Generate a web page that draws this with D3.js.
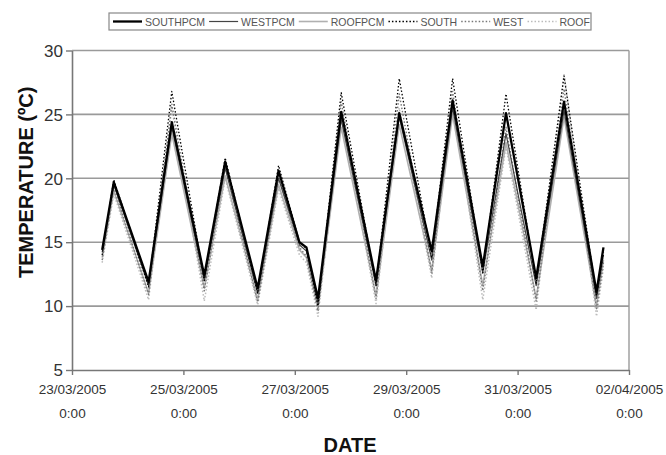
<!DOCTYPE html>
<html><head><meta charset="utf-8">
<script src="https://cdn.jsdelivr.net/npm/d3@7"></script>
<style>body{margin:0;background:#fff}</style></head>
<body>
<svg id="c" width="666" height="455"></svg>
<script>
// hours since 23/03/2005 0:00
const hours = [13,18,33,43,57,66,80,89,98,101,106,116,131,141,155,164,177,187,200,212,226,229];
const seriesNames = ["SOUTHPCM","WESTPCM","ROOFPCM","SOUTH","WEST","ROOF"];
const southPCM = [14.4,19.7,11.9,24.4,12.4,21.3,11.4,20.6,15.0,14.6,10.6,25.2,12.0,25.1,14.3,26.1,13.1,25.1,12.2,26.0,11.1,14.6];
const westPCM  = [14.2,19.5,11.6,24.0,12.0,20.8,11.0,20.0,14.8,14.3,10.2,24.6,11.6,24.8,13.6,25.5,12.6,23.5,11.6,25.3,10.6,14.0];
const roofPCM  = [13.8,19.0,11.0,23.5,11.4,20.2,10.5,19.5,14.4,13.8,9.8,24.0,10.8,24.2,12.8,25.0,11.6,22.8,10.6,24.8,10.0,13.6];
const south    = [14.0,19.9,11.5,26.8,12.0,21.6,11.0,21.0,15.0,14.5,10.0,26.7,11.6,27.8,13.8,27.8,12.6,26.6,11.8,28.0,10.8,14.2];
const west     = [13.6,19.3,10.9,25.8,11.2,21.0,10.3,20.2,14.6,13.9,9.6,26.0,10.6,26.6,12.6,26.8,11.2,24.0,10.4,27.0,9.8,13.4];
const roof     = [13.4,18.8,10.5,25.5,10.4,20.0,10.1,19.2,14.0,13.4,9.2,25.0,10.2,25.5,12.2,26.0,10.5,22.5,9.7,28.2,9.2,13.0];
const yTicks = [5,10,15,20,25,30];
const xTickLabels = ["23/03/2005","25/03/2005","27/03/2005","29/03/2005","31/03/2005","02/04/2005"];
const xTickTime = "0:00";

const values = [southPCM, westPCM, roofPCM, south, west, roof];
const styles = [
  {color:"#000", w:2.3, dash:null},
  {color:"#444", w:1.2, dash:null},
  {color:"#b0b0b0", w:1.6, dash:null},
  {color:"#000", w:1.3, dash:"1.5,2"},
  {color:"#777", w:1.4, dash:"1.5,2"},
  {color:"#bbb", w:1.5, dash:"1.5,2"}
];

const svg = d3.select("#c");
const L = 72, R = 629, T = 50.5, B = 370;
const parse = d3.timeParse("%d/%m/%Y");
const t0 = parse("23/03/2005");
const dates = xTickLabels.map(parse);
const x = d3.scaleTime().domain([t0, dates[dates.length-1]]).range([L, R]);
const y = d3.scaleLinear().domain([5, 30]).range([B, T]);
const hourToDate = h => new Date(t0.getTime() + h * 3600000);

// gridlines
svg.append("g").selectAll("line").data(yTicks.filter(v => v > 5)).join("line")
  .attr("x1", L).attr("x2", R).attr("y1", d => y(d)).attr("y2", d => y(d))
  .attr("stroke", "#9a9a9a").attr("stroke-width", 1.6);
// right border
svg.append("line").attr("x1", R).attr("x2", R).attr("y1", T).attr("y2", B)
  .attr("stroke", "#9a9a9a").attr("stroke-width", 1.4);

// y axis
const gy = svg.append("g").attr("transform", `translate(${L},0)`)
  .call(d3.axisLeft(y).tickValues(yTicks).tickSize(6).tickSizeOuter(0).tickFormat(d3.format("d")));
gy.select(".domain").attr("stroke", "#777").attr("stroke-width", 1.6);
gy.selectAll(".tick line").attr("stroke", "#777").attr("stroke-width", 1.4);
gy.selectAll(".tick text").attr("font-family", "Liberation Sans, Arial, sans-serif")
  .attr("font-size", 17).attr("fill", "#333").attr("x", -9).attr("dy", "0.34em");

// x axis
const gx = svg.append("g").attr("transform", `translate(0,${B})`)
  .call(d3.axisBottom(x).tickValues(dates).tickSize(5).tickSizeOuter(0).tickFormat(() => ""));
gx.select(".domain").attr("stroke", "#777").attr("stroke-width", 1.6);
gx.selectAll(".tick line").attr("stroke", "#777").attr("stroke-width", 1.4);
gx.selectAll(".tick").each(function(d, i) {
  const g = d3.select(this);
  g.append("text").attr("y", 24).attr("text-anchor", "middle")
    .attr("font-family", "Liberation Sans, Arial, sans-serif").attr("font-size", 13.5).attr("fill", "#333")
    .text(xTickLabels[i]);
  g.append("text").attr("y", 48).attr("text-anchor", "middle")
    .attr("font-family", "Liberation Sans, Arial, sans-serif").attr("font-size", 13.5).attr("fill", "#333")
    .text(xTickTime);
});

// series lines (light first)
const line = d3.line().x((d, i) => x(hourToDate(hours[i]))).y(d => y(d));
const order = [5, 2, 4, 1, 3, 0];
order.forEach(k => {
  svg.append("path").datum(values[k]).attr("d", line)
    .attr("fill", "none").attr("stroke", styles[k].color).attr("stroke-width", styles[k].w)
    .attr("stroke-dasharray", styles[k].dash).attr("stroke-linejoin", "round");
});

// axis titles
svg.append("text").attr("transform", `translate(33,${(T+B)/2 - 28}) rotate(-90)`)
  .attr("text-anchor", "middle").attr("font-family", "Liberation Sans, Arial, sans-serif")
  .attr("font-weight", "bold").attr("font-size", 20).attr("fill", "#111").text("TEMPERATURE (ºC)");
svg.append("text").attr("x", 350).attr("y", 452).attr("text-anchor", "middle")
  .attr("font-family", "Liberation Sans, Arial, sans-serif")
  .attr("font-weight", "bold").attr("font-size", 20).attr("fill", "#111").text("DATE");

// legend
const lg = svg.append("g");
const box = lg.append("rect").attr("x", 109).attr("y", 13).attr("height", 17)
  .attr("fill", "#fff").attr("stroke", "#888").attr("stroke-width", 1.2);
let cx = 113;
seriesNames.forEach((name, k) => {
  lg.append("line").attr("x1", cx).attr("x2", cx + 29).attr("y1", 21.5).attr("y2", 21.5)
    .attr("stroke", styles[k].color).attr("stroke-width", styles[k].w)
    .attr("stroke-dasharray", styles[k].dash);
  const t = lg.append("text").attr("x", cx + 32).attr("y", 25.5)
    .attr("font-family", "Liberation Sans, Arial, sans-serif").attr("font-size", 10.5)
    .attr("fill", "#555").text(name);
  cx += 32 + t.node().getComputedTextLength() + 4;
});
box.attr("width", 591 - 109);
</script>
</body></html>
